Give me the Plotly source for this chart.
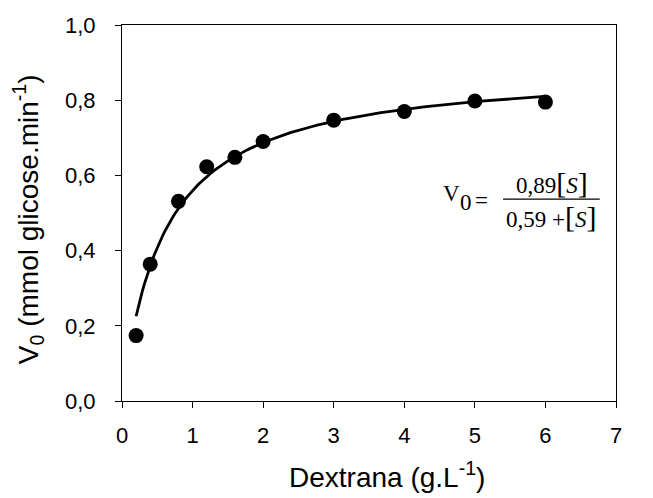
import plotly.graph_objects as go
import numpy as np

# Data
dextrana = [0.2, 0.4, 0.8, 1.2, 1.6, 2.0, 3.0, 4.0, 5.0, 6.0]
v0 = [0.174, 0.364, 0.531, 0.623, 0.648, 0.690, 0.747, 0.770, 0.798, 0.795]

# Michaelis-Menten fit parameters printed on the chart
VMAX = 0.89
KM = 0.59
fit_x = np.linspace(0.2, 6.0, 200)
fit_y = VMAX * fit_x / (KM + fit_x)

x_ticks = [0, 1, 2, 3, 4, 5, 6, 7]
y_ticks = [0.0, 0.2, 0.4, 0.6, 0.8, 1.0]

fig = go.Figure()
fig.add_trace(go.Scatter(x=fit_x, y=fit_y, mode="lines",
                         line=dict(color="black", width=2.8), hoverinfo="skip"))
fig.add_trace(go.Scatter(x=dextrana, y=v0, mode="markers",
                         marker=dict(color="black", size=15)))

serif = "Liberation Serif, Times New Roman, serif"
eqfont = dict(family=serif, size=23, color="black")
big = '<span style="font-size:30px">'
fig.add_annotation(x=4.676, y=0.552, xref="x", yref="y", showarrow=False,
                   text="V", font=eqfont)
fig.add_annotation(x=4.875, y=0.528, xref="x", yref="y", showarrow=False,
                   text="0", font=eqfont)
fig.add_annotation(x=5.09, y=0.533, xref="x", yref="y", showarrow=False,
                   text="=", font=eqfont)
fig.add_annotation(x=6.09, y=0.580, xref="x", yref="y", showarrow=False,
                   text="0,89" + big + "[</span><i>S</i>" + big + "]</span>",
                   font=eqfont)
fig.add_annotation(x=6.08, y=0.490, xref="x", yref="y", showarrow=False,
                   text="0,59 +" + big + "[</span><i>S</i>" + big + "]</span>",
                   font=eqfont)
fig.add_shape(type="line", x0=5.40, x1=6.77, y0=0.537, y1=0.537,
              xref="x", yref="y", line=dict(color="black", width=1.2))

sans = "Liberation Sans, Arial, sans-serif"
fig.add_annotation(x=0.536, y=-0.198, xref="paper", yref="paper", showarrow=False,
                   xanchor="center", yanchor="middle",
                   text="Dextrana (g.L<sup>-1</sup>)", font=dict(size=28, family=sans, color="black"))
fig.add_annotation(x=-0.19, y=0.484, xref="paper", yref="paper", showarrow=False,
                   xanchor="center", yanchor="middle", textangle=-90,
                   text="V<sub>0</sub> (mmol glicose.min<sup>-1</sup>)",
                   font=dict(size=28, family=sans, color="black"))

fig.update_layout(
    width=653, height=498,
    margin=dict(l=122, r=37, t=25, b=97),
    paper_bgcolor="white", plot_bgcolor="white",
    showlegend=False,
    separators=",.",
    font=dict(family=sans, color="black"),
    xaxis=dict(range=[0, 7], tickvals=x_ticks, ticks="outside", ticklen=6,
               tickcolor="black", showline=True, linecolor="black", linewidth=1.2,
               mirror=True, showgrid=False, zeroline=False, ticklabelstandoff=8,
               tickfont=dict(size=22, family=sans)),
    yaxis=dict(range=[0, 1], tickvals=y_ticks, tickformat=".1f", ticks="outside", ticklen=6,
               tickcolor="black", showline=True, linecolor="black", linewidth=1.2,
               mirror=True, showgrid=False, zeroline=False, ticklabelstandoff=15,
               tickfont=dict(size=22, family=sans)),
)

fig.write_html("out.html")
